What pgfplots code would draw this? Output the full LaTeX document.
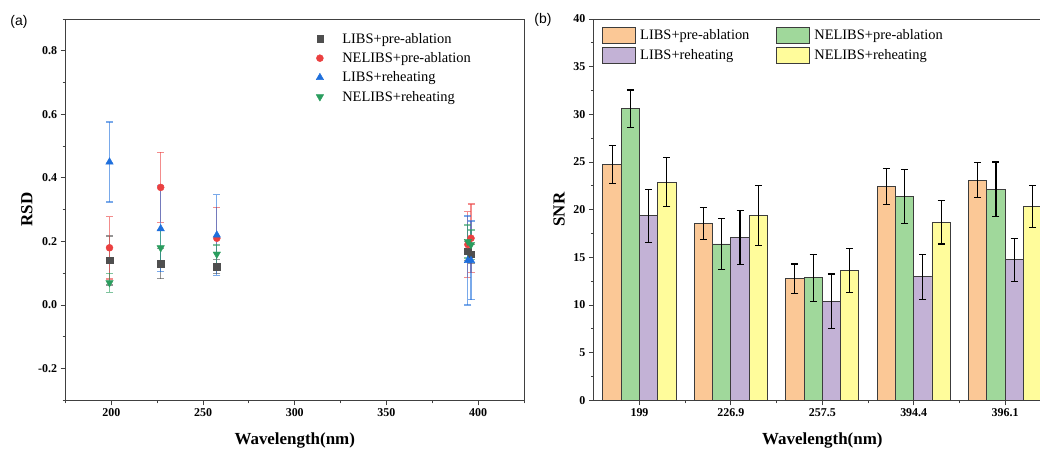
\documentclass[border=0pt]{standalone}
\usepackage{pgfplots}
\pgfplotsset{compat=1.18}
\usepackage{fontspec}
\setmainfont{Liberation Serif}
\newfontfamily\arialfont{Liberation Sans}
\definecolor{cgray}{HTML}{4F4F4F}
\definecolor{cred}{HTML}{EB4040}
\definecolor{cblue}{HTML}{1F6FDC}
\definecolor{cgreen}{HTML}{2A9D5E}
\definecolor{borange}{HTML}{FBC896}
\definecolor{bgreen}{HTML}{A0D89B}
\definecolor{bpurple}{HTML}{C3B2D6}
\definecolor{byellow}{HTML}{FFFC9B}
\definecolor{bedge}{HTML}{3C3C3C}
\pgfplotsset{
  common/.style={
    scale only axis,
    anchor=south west,
    axis line style={draw=black!75, line width=0.9bp},
    tick align=outside,
    xtick pos=bottom, ytick pos=left,
    major tick length=5bp, minor tick length=3bp,
    tick style={draw=black!75, line width=0.9bp},
    /pgf/number format/assume math mode=true,
    tick label style={font=\fontsize{12}{14}\selectfont\bfseries},
    label style={font=\fontsize{17}{20}\selectfont\bfseries},
  },
  ebar/.style={
    error bars/.cd, y dir=both, y explicit,
    error bar style={draw=#1, draw opacity=0.6, line width=1.2bp},
    error mark=-,
    error mark options={rotate=90, draw=#1, draw opacity=0.6, mark size=3.5bp, line width=1.2bp},
  },
  bbar/.style={
    fill=#1, draw=bedge, line width=0.9bp,
    error bars/.cd, y dir=both, y explicit,
    error bar style={draw=black, line width=1.1bp},
    error mark=-,
    error mark options={rotate=90, draw=black, mark size=3.5bp, line width=1.1bp},
  },
}
\begin{document}
\begin{tikzpicture}
% ---------------- (a) ----------------
\begin{axis}[common,
  at={(65.5bp,48.7bp)}, width=458.5bp, height=381.3bp,
  xmin=175, xmax=425, ymin=-0.3, ymax=0.9,
  xtick={200,250,300,350,400}, minor xtick={175,225,275,325,375,425},
  ytick={-0.2,0,0.2,0.4,0.6,0.8}, minor ytick={-0.3,-0.1,0.1,0.3,0.5,0.7,0.9},
  yticklabel style={/pgf/number format/fixed, /pgf/number format/fixed zerofill, /pgf/number format/precision=1},
  xlabel={Wavelength(nm)}, ylabel={RSD},
  xlabel style={at={(axis description cs:0.5,-0.1054)}, anchor=center},
  ylabel style={at={(axis description cs:-0.0844,0.5)}, anchor=center},
  legend image code/.code={\node[inner sep=0pt, minimum width=17bp, minimum height=2bp, draw=none, fill=none] at (8.5bp,0bp) {}; \path[#1, only marks] plot coordinates {(15.5bp,0bp)};},
  legend style={draw=none, fill=none, inner sep=0pt, outer sep=0pt,
    at={(axis description cs:0.5396,0.963)}, anchor=north west,
    nodes={inner sep=0pt}, column sep=12.4bp, row sep=7.8bp,
    font=\fontsize{14.5}{17}\selectfont},
  legend cell align=left,
]
\addplot[only marks, mark=square*, mark size=3.2bp, color=cgray, ebar=cgray]
  coordinates {(199,0.14) +- (0,0.077) (226.9,0.13) +- (0,0.047) (257.5,0.12) +- (0,0.022) (394.4,0.17) +- (0,0.03) (396.1,0.16) +- (0,0.03)};
\addlegendentry{LIBS+pre-ablation}
\addplot[only marks, mark=*, mark size=3.5bp, color=cred, ebar=cred]
  coordinates {(199,0.18) +- (0,0.098) (226.9,0.37) +- (0,0.11) (257.5,0.21) +- (0,0.098) (394.4,0.19) +- (0,0.103) (396.1,0.21) +- (0,0.108)};
\addlegendentry{NELIBS+pre-ablation}
\addplot[only marks, mark=triangle*, mark size=4.3bp, color=cblue, ebar=cblue]
  coordinates {(199,0.45) +- (0,0.126) (226.9,0.24) +- (0,0.135) (257.5,0.22) +- (0,0.127) (394.4,0.14) +- (0,0.14) (396.1,0.14) +- (0,0.124)};
\addlegendentry{LIBS+reheating}
\addplot[only marks, mark=triangle*, mark options={rotate=180}, mark size=4.3bp, color=cgreen, ebar=cgreen]
  coordinates {(199,0.07) +- (0,0.03) (226.9,0.18) +- (0,0.055) (257.5,0.16) +- (0,0.029) (394.4,0.20) +- (0,0.052) (396.1,0.19) +- (0,0.046)};
\addlegendentry{NELIBS+reheating}
\end{axis}
% ---------------- (b) ----------------
\begin{axis}[common,
  at={(593.8bp,48.7bp)}, width=457bp, height=381.3bp,
  ybar=0pt, bar width=0.2,
  xmin=-0.5, xmax=4.5, ymin=0, ymax=40,
  xtick={0,1,2,3,4}, xticklabels={199,226.9,257.5,394.4,396.1},
  minor xtick={0.5,1.5,2.5,3.5},
  ytick={0,5,10,15,20,25,30,35,40}, minor ytick={2.5,7.5,12.5,17.5,22.5,27.5,32.5,37.5},
  xlabel={Wavelength(nm)}, ylabel={SNR},
  xlabel style={at={(axis description cs:0.5,-0.1054)}, anchor=center},
  ylabel style={at={(axis description cs:-0.0762,0.5)}, anchor=center},
  legend columns=2,
  legend image code/.code={\draw[#1] (0bp,-8.3bp) rectangle (33.3bp,8.3bp);},
  legend style={draw=none, fill=none, inner sep=0pt, outer sep=0pt,
    at={(axis description cs:0.0173,0.98)}, anchor=north west,
    nodes={inner sep=0pt}, column sep=4.3bp, row sep=2.7bp,
    /tikz/every even column/.append style={column sep=26.4bp},
    font=\fontsize{14.5}{17}\selectfont},
  legend cell align=left,
]
\addplot[bbar=borange] coordinates {(0,24.7) +- (0,2.0) (1,18.55) +- (0,1.65) (2,12.75) +- (0,1.55) (3,22.4) +- (0,1.9) (4,23.1) +- (0,1.85)};
\addlegendentry{LIBS+pre-ablation}
\addplot[bbar=bgreen] coordinates {(0,30.6) +- (0,1.95) (1,16.4) +- (0,2.65) (2,12.85) +- (0,2.45) (3,21.4) +- (0,2.85) (4,22.15) +- (0,2.85)};
\addlegendentry{NELIBS+pre-ablation}
\addplot[bbar=bpurple] coordinates {(0,19.35) +- (0,2.75) (1,17.1) +- (0,2.85) (2,10.4) +- (0,2.85) (3,12.95) +- (0,2.35) (4,14.75) +- (0,2.25)};
\addlegendentry{LIBS+reheating}
\addplot[bbar=byellow] coordinates {(0,22.9) +- (0,2.55) (1,19.35) +- (0,3.15) (2,13.6) +- (0,2.3) (3,18.7) +- (0,2.3) (4,20.35) +- (0,2.2)};
\addlegendentry{NELIBS+reheating}
\end{axis}
\node[font=\arialfont\fontsize{14}{16}\selectfont] at (19bp,427bp) {(a)};
\node[font=\arialfont\fontsize{14}{16}\selectfont] at (543bp,429bp) {(b)};
\pgfresetboundingbox
\useasboundingbox (0,0) rectangle (1040bp,449bp);
\end{tikzpicture}
\end{document}
